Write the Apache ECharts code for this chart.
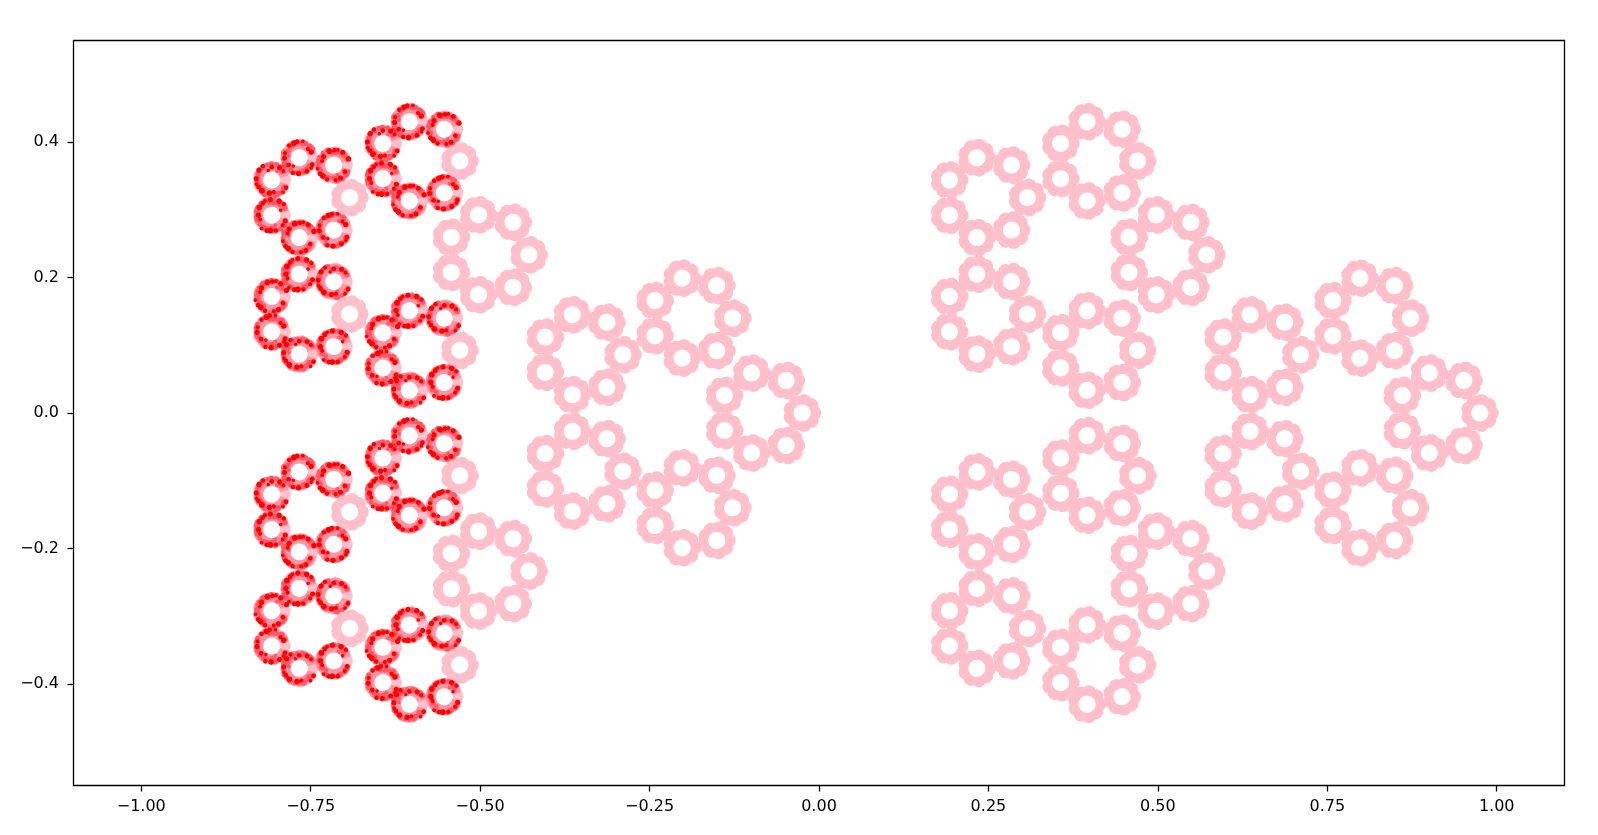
<!DOCTYPE html>
<html>
<head>
<meta charset="utf-8">
<title>Fractal scatter</title>
<script src="https://cdn.jsdelivr.net/npm/echarts@6/dist/echarts.min.js"></script>
<style>
  html, body { margin: 0; padding: 0; background: #fff; }
  #chart { width: 1598px; height: 835px; }
</style>
</head>
<body>
<div id="chart"></div>
<script>
// Tick labels
const xTicks = [-1, -0.75, -0.5, -0.25, 0, 0.25, 0.5, 0.75, 1];
const yTicks = [-0.4, -0.2, 0, 0.2, 0.4];

// Ring centres, one row per seven-ring flower
// Left half
const left1 = [[-0.025, 0], [-0.0485, 0.048], [-0.0995, 0.059], [-0.1395, 0.026], [-0.1395, -0.026], [-0.0995, -0.059], [-0.0485, -0.048]];
const left2 = [[-0.1275, 0.14], [-0.151, 0.188], [-0.202, 0.199], [-0.242, 0.166], [-0.242, 0.114], [-0.202, 0.081], [-0.151, 0.092]];
const left3 = [[-0.1275, -0.14], [-0.151, -0.092], [-0.202, -0.081], [-0.242, -0.114], [-0.242, -0.166], [-0.202, -0.199], [-0.151, -0.188]];
const left4 = [[-0.2895, 0.086], [-0.313, 0.134], [-0.364, 0.145], [-0.404, 0.112], [-0.404, 0.06], [-0.364, 0.027], [-0.313, 0.038]];
const left5 = [[-0.2895, -0.086], [-0.313, -0.038], [-0.364, -0.027], [-0.404, -0.06], [-0.404, -0.112], [-0.364, -0.145], [-0.313, -0.134]];
const left6 = [[-0.428, 0.2335], [-0.4515, 0.2815], [-0.5025, 0.2925], [-0.5425, 0.2595], [-0.5425, 0.2075], [-0.5025, 0.1745], [-0.4515, 0.1855]];
const left7 = [[-0.428, -0.2335], [-0.4515, -0.1855], [-0.5025, -0.1745], [-0.5425, -0.2075], [-0.5425, -0.2595], [-0.5025, -0.2925], [-0.4515, -0.2815]];
const left8 = [[-0.53, 0.372], [-0.553, 0.419], [-0.6045, 0.43], [-0.6435, 0.398], [-0.6435, 0.346], [-0.6045, 0.313], [-0.553, 0.325]];
const left9 = [[-0.53, 0.0925], [-0.553, 0.14], [-0.6045, 0.151], [-0.6435, 0.1185], [-0.6435, 0.0665], [-0.6045, 0.0335], [-0.553, 0.045]];
const left10 = [[-0.53, -0.0925], [-0.553, -0.045], [-0.6045, -0.0335], [-0.6435, -0.0665], [-0.6435, -0.1185], [-0.6045, -0.151], [-0.553, -0.14]];
const left11 = [[-0.53, -0.372], [-0.553, -0.325], [-0.6045, -0.313], [-0.6435, -0.346], [-0.6435, -0.398], [-0.6045, -0.43], [-0.553, -0.419]];
const left12 = [[-0.6925, 0.318], [-0.716, 0.366], [-0.767, 0.377], [-0.8075, 0.344], [-0.8075, 0.292], [-0.767, 0.259], [-0.716, 0.27]];
const left13 = [[-0.6925, 0.146], [-0.716, 0.194], [-0.767, 0.205], [-0.8075, 0.172], [-0.8075, 0.12], [-0.767, 0.087], [-0.716, 0.098]];
const left14 = [[-0.6925, -0.146], [-0.716, -0.098], [-0.767, -0.087], [-0.8075, -0.12], [-0.8075, -0.172], [-0.767, -0.205], [-0.716, -0.194]];
const left15 = [[-0.6925, -0.318], [-0.716, -0.27], [-0.767, -0.259], [-0.8075, -0.292], [-0.8075, -0.344], [-0.767, -0.377], [-0.716, -0.366]];

// Right half
const right1 = [[0.975, 0], [0.9515, 0.048], [0.9005, 0.059], [0.8605, 0.026], [0.8605, -0.026], [0.9005, -0.059], [0.9515, -0.048]];
const right2 = [[0.8725, 0.14], [0.849, 0.188], [0.798, 0.199], [0.758, 0.166], [0.758, 0.114], [0.798, 0.081], [0.849, 0.092]];
const right3 = [[0.8725, -0.14], [0.849, -0.092], [0.798, -0.081], [0.758, -0.114], [0.758, -0.166], [0.798, -0.199], [0.849, -0.188]];
const right4 = [[0.7105, 0.086], [0.687, 0.134], [0.636, 0.145], [0.596, 0.112], [0.596, 0.06], [0.636, 0.027], [0.687, 0.038]];
const right5 = [[0.7105, -0.086], [0.687, -0.038], [0.636, -0.027], [0.596, -0.06], [0.596, -0.112], [0.636, -0.145], [0.687, -0.134]];
const right6 = [[0.572, 0.2335], [0.5485, 0.2815], [0.4975, 0.2925], [0.4575, 0.2595], [0.4575, 0.2075], [0.4975, 0.1745], [0.5485, 0.1855]];
const right7 = [[0.572, -0.2335], [0.5485, -0.1855], [0.4975, -0.1745], [0.4575, -0.2075], [0.4575, -0.2595], [0.4975, -0.2925], [0.5485, -0.2815]];
const right8 = [[0.47, 0.372], [0.447, 0.419], [0.3955, 0.43], [0.3565, 0.398], [0.3565, 0.346], [0.3955, 0.313], [0.447, 0.325]];
const right9 = [[0.47, 0.0925], [0.447, 0.14], [0.3955, 0.151], [0.3565, 0.1185], [0.3565, 0.0665], [0.3955, 0.0335], [0.447, 0.045]];
const right10 = [[0.47, -0.0925], [0.447, -0.045], [0.3955, -0.0335], [0.3565, -0.0665], [0.3565, -0.1185], [0.3955, -0.151], [0.447, -0.14]];
const right11 = [[0.47, -0.372], [0.447, -0.325], [0.3955, -0.313], [0.3565, -0.346], [0.3565, -0.398], [0.3955, -0.43], [0.447, -0.419]];
const right12 = [[0.3075, 0.318], [0.284, 0.366], [0.233, 0.377], [0.1925, 0.344], [0.1925, 0.292], [0.233, 0.259], [0.284, 0.27]];
const right13 = [[0.3075, 0.146], [0.284, 0.194], [0.233, 0.205], [0.1925, 0.172], [0.1925, 0.12], [0.233, 0.087], [0.284, 0.098]];
const right14 = [[0.3075, -0.146], [0.284, -0.098], [0.233, -0.087], [0.1925, -0.12], [0.1925, -0.172], [0.233, -0.205], [0.284, -0.194]];
const right15 = [[0.3075, -0.318], [0.284, -0.27], [0.233, -0.259], [0.1925, -0.292], [0.1925, -0.344], [0.233, -0.377], [0.284, -0.366]];

const pinkRings = [].concat(
  left1, left2, left3, left4, left5, left6, left7, left8, left9, left10, left11, left12, left13, left14, left15,
  right1, right2, right3, right4, right5, right6, right7, right8, right9, right10, right11, right12, right13, right14, right15
);

// In the red flowers the first ring (the one pointing right) stays pink
const redRings = [left8, left9, left10, left11, left12, left13, left14, left15]
  .reduce((all, flower) => all.concat(flower.slice(1)), []);

// Symbol shapes, in pixels around the ring centre
const SYMBOL_SIZE = 44;
const BOX = SYMBOL_SIZE / 2;
const box = `M${-BOX} ${-BOX}L${-BOX} ${-BOX}M${BOX} ${BOX}L${BOX} ${BOX}`;
const PALE_LOBE = 15; // half width in degrees of the lobe that stays pink
const HOLE = 8.5;
const OUTER = 19;

function polar(r, deg) {
  const a = deg * Math.PI / 180;
  return `${(r * Math.cos(a)).toFixed(2)} ${(r * Math.sin(a)).toFixed(2)}`;
}

function scallopedRing() {
  let d = box;
  for (let i = 0; i < 180; i++) {
    const deg = i * 2;
    const bump = Math.pow(Math.abs(Math.cos(4.5 * deg * Math.PI / 180)), 0.7);
    d += (i ? 'L' : 'M') + polar(OUTER - 1.9 + 1.9 * bump, deg);
  }
  d += 'Z';
  for (let i = 0; i < 72; i++) {
    d += (i ? 'L' : 'M') + polar(HOLE, -i * 5);
  }
  return 'path://' + d + 'Z';
}

// The ring without the pale lobe on its right side
function openRing() {
  let d = box + 'M' + polar(HOLE, PALE_LOBE);
  for (let deg = PALE_LOBE; deg <= 360 - PALE_LOBE; deg += 6) d += 'L' + polar(OUTER - 0.8, deg);
  for (let deg = 360 - PALE_LOBE; deg >= PALE_LOBE; deg -= 6) d += 'L' + polar(HOLE, deg);
  return 'path://' + d + 'Z';
}

function blot(cx, cy, r) {
  let d = '';
  for (let i = 0; i < 10; i++) {
    const a = i * 36 * Math.PI / 180;
    d += (i ? 'L' : 'M') + (cx + r * Math.cos(a)).toFixed(2) + ' ' + (cy + r * Math.sin(a)).toFixed(2);
  }
  return d + 'Z';
}

// Mottled patches around the ring, golden angle spacing so they do not line up
function blotches(start, count, minSize, maxSize) {
  let d = box;
  for (let i = 0; i < count; i++) {
    const deg = (start + i * 137.508) % 360;
    if (deg < PALE_LOBE + 6 || deg > 354 - PALE_LOBE) continue;
    const size = minSize + (maxSize - minSize) * ((i * 0.5698) % 1);
    const inner = HOLE + size;
    const outer = OUTER - size * 0.9;
    const r = inner + (outer - inner) * Math.pow((i * 0.7549) % 1, 0.35);
    const a = deg * Math.PI / 180;
    d += blot(r * Math.cos(a), r * Math.sin(a), size);
  }
  return 'path://' + d;
}

const softShapes = [blotches(70, 22, 2, 3.4), blotches(190, 22, 2, 3.4), blotches(300, 22, 2, 3.4)];
const strongShapes = [blotches(10, 16, 1.8, 3), blotches(125, 16, 1.8, 3), blotches(250, 16, 1.8, 3), blotches(330, 16, 1.8, 3)];

const AXIS_FONT = { color: '#000', fontFamily: 'DejaVu Sans', fontSize: 16 };

function tickLabel(value, digits) {
  const text = Math.abs(value).toFixed(digits);
  return value < 0 ? '\u2212' + text : text;
}

const chart = echarts.init(document.getElementById('chart'), null, { renderer: 'canvas' });

chart.setOption({
  animation: false,
  backgroundColor: '#fff',
  grid: {
    show: true,
    left: 73.5,
    right: 33.5,
    top: 40.5,
    bottom: 49.5,
    borderColor: '#000',
    borderWidth: 1.3,
    backgroundColor: '#fff',
  },
  xAxis: {
    type: 'value',
    min: -1.1,
    max: 1.1,
    axisLine: { show: false, onZero: false },
    splitLine: { show: false },
    axisTick: { show: true, customValues: xTicks, length: 6, lineStyle: { color: '#000', width: 1.3 } },
    axisLabel: {
      ...AXIS_FONT,
      margin: 13,
      customValues: xTicks,
      formatter: value => tickLabel(value, 2),
    },
  },
  yAxis: {
    type: 'value',
    min: -0.55,
    max: 0.55,
    axisLine: { show: false, onZero: false },
    splitLine: { show: false },
    axisTick: { show: true, customValues: yTicks, length: 6, lineStyle: { color: '#000', width: 1.3 } },
    axisLabel: {
      ...AXIS_FONT,
      margin: 14.5,
      padding: [4, 0, 0, 0],
      customValues: yTicks,
      formatter: value => tickLabel(value, 1),
    },
  },
  series: [
    {
      type: 'scatter',
      data: pinkRings,
      symbol: scallopedRing(),
      symbolSize: SYMBOL_SIZE,
      itemStyle: { color: '#ffc0cb', opacity: 1 },
      silent: true,
    },
    {
      type: 'scatter',
      data: redRings,
      symbol: openRing(),
      symbolSize: SYMBOL_SIZE,
      itemStyle: { color: '#ff3048', opacity: 0.3 },
      silent: true,
    },
    {
      type: 'scatter',
      data: redRings,
      symbol: (value, params) => softShapes[params.dataIndex % softShapes.length],
      symbolSize: SYMBOL_SIZE,
      itemStyle: { color: '#ff1020', opacity: 0.45 },
      silent: true,
    },
    {
      type: 'scatter',
      data: redRings,
      symbol: (value, params) => strongShapes[params.dataIndex % strongShapes.length],
      symbolSize: SYMBOL_SIZE,
      itemStyle: { color: '#ff0000', opacity: 1 },
      silent: true,
    },
  ],
});
</script>
</body>
</html>
